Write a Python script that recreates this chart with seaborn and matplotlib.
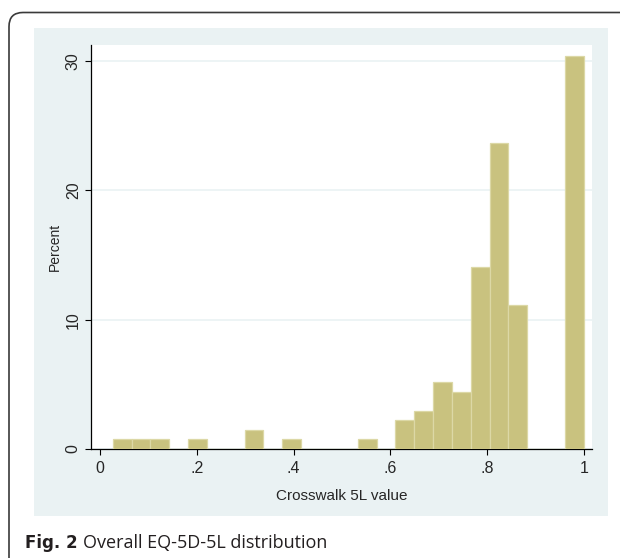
import matplotlib
matplotlib.use("Agg")
import matplotlib.pyplot as plt
import matplotlib.patches as mpatches
import matplotlib.transforms as mtransforms
import seaborn as sns
import numpy as np
import pandas as pd

# histogram: 25 equal bins from the smallest value to 1
bin_first = 0.026
bin_last = 1.0
n_bins = 25
percent = [0.74, 0.74, 0.74, 0.0, 0.74, 0.0, 0.0, 1.48, 0.0, 0.74,
           0.0, 0.0, 0.0, 0.74, 0.0, 2.22, 2.96, 5.19, 4.44, 14.07,
           23.70, 11.11, 0.0, 0.0, 30.37]
x_ticks = [0, 0.2, 0.4, 0.6, 0.8, 1.0]
x_ticklabels = ["0", ".2", ".4", ".6", ".8", "1"]
y_ticks = [0, 10, 20, 30]

edges = np.linspace(bin_first, bin_last, n_bins + 1)
df = pd.DataFrame({"value": (edges[:-1] + edges[1:]) / 2, "percent": percent})

sns.set_style("white")
plt.rcParams["font.family"] = ["Liberation Sans", "DejaVu Sans"]

W, H = 620, 558
fig = plt.figure(figsize=(W / 100, H / 100), dpi=100)
fig.patch.set_facecolor("white")

# outer rounded frame (runs off the right and bottom edge)
frame = mpatches.FancyBboxPatch((9, -40), 660, 40 + H - 12.5,
                                boxstyle="round,pad=0,rounding_size=14",
                                transform=mtransforms.IdentityTransform(),
                                fill=False, edgecolor="#3a3a3a", lw=1.2)
fig.add_artist(frame)

# stata-style light bluish panel
panel = mpatches.Rectangle((34 / W, (H - 516) / H), (608 - 34) / W, (516 - 28) / H,
                           transform=fig.transFigure, facecolor="#EAF2F3",
                           edgecolor="none", zorder=0)
fig.add_artist(panel)

ax = fig.add_axes([91 / W, (H - 449) / H, (592 - 91) / W, (449 - 45) / H])
ax.set_facecolor("white")

sns.histplot(data=df, x="value", weights="percent", bins=list(edges), ax=ax,
             color="#C9C27F", alpha=1, edgecolor="#DCD8A6", linewidth=0.9,
             zorder=3)

ax.set_xlim(-0.019, 1.017)
ax.set_ylim(0, 31.25)
ax.set_xticks(x_ticks)
ax.set_xticklabels(x_ticklabels)
ax.set_yticks(y_ticks)
ax.set_yticklabels([str(v) for v in y_ticks], rotation=90, va="center")

ax.yaxis.grid(True, color="#EAF2F3", lw=1.2, zorder=0)
ax.set_axisbelow(True)
for s in ["top", "right"]:
    ax.spines[s].set_visible(False)
for s in ["left", "bottom"]:
    ax.spines[s].set_color("black")
    ax.spines[s].set_linewidth(0.9)

ax.tick_params(axis="x", direction="out", length=4.3, width=0.8, color="black",
               labelsize=11.5, pad=4.5, bottom=True)
ax.tick_params(axis="y", direction="out", length=4.3, width=0.8, color="black",
               labelsize=11.5, pad=3, left=True)

ax.set_xlabel("Crosswalk 5L value", fontsize=11, labelpad=9)
ax.set_ylabel("Percent", fontsize=10, labelpad=3)

# caption
cap_y = (H - 547.7) / H
fig.text(25 / W, cap_y, "Fig. 2", fontsize=12, fontweight="bold",
         family=["DejaVu Sans"], color="#231F20", va="baseline")
fig.text(83.3 / W, cap_y, "Overall EQ-5D-5L distribution", fontsize=13,
         family=["Open Sans", "DejaVu Sans"], color="#231F20", va="baseline")

fig.savefig("out.png", dpi=100)
